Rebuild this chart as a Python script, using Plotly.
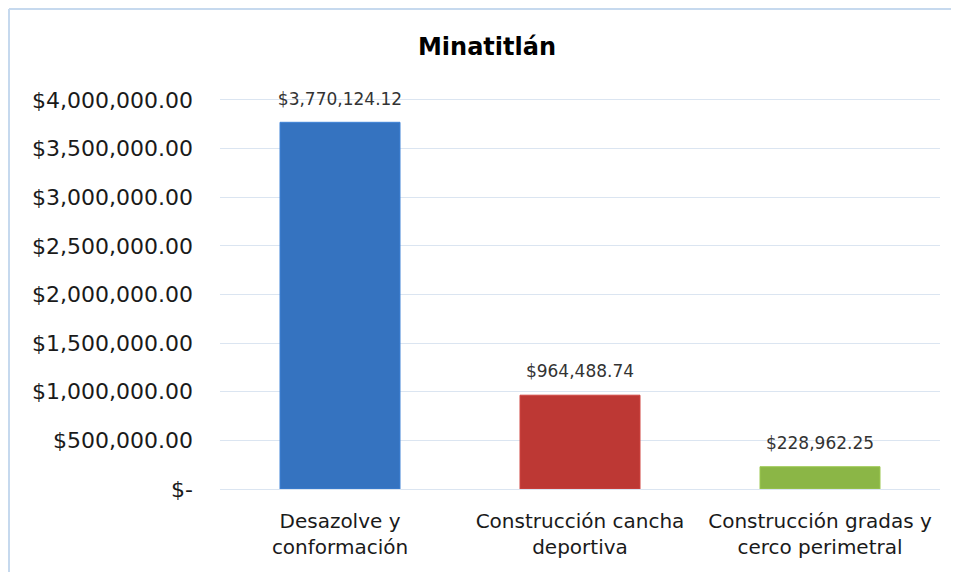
import plotly.graph_objects as go

categories = ["Desazolve y<br>conformación", "Construcción cancha<br>deportiva", "Construcción gradas y<br>cerco perimetral"]
amounts = [3770124.12, 964488.74, 228962.25]
bar_colors = ["#3573c0", "#bd3834", "#8bb646"]
bar_edges = ["#3f82d6", "#cf4540", "#9cc850"]
tick_values = [0, 500000, 1000000, 1500000, 2000000, 2500000, 3000000, 3500000, 4000000]
tick_labels = ["$-", "$500,000.00", "$1,000,000.00", "$1,500,000.00", "$2,000,000.00",
               "$2,500,000.00", "$3,000,000.00", "$3,500,000.00", "$4,000,000.00"]

font_family = "'DejaVu Sans', sans-serif"

fig = go.Figure()
fig.add_trace(
    go.Bar(
        x=categories,
        y=amounts,
        marker=dict(color=bar_colors, line=dict(color=bar_edges, width=1)),
        showlegend=False,
        hoverinfo="skip",
    )
)
# value labels sit above each bar
fig.add_trace(
    go.Scatter(
        x=categories,
        y=amounts,
        mode="markers+text",
        text=[f"${v:,.2f}" for v in amounts],
        textposition="top center",
        textfont=dict(size=17, color="#333333", family=font_family),
        marker=dict(size=20, color="rgba(0,0,0,0)"),
        cliponaxis=False,
        showlegend=False,
    )
)

# chart frame (top and left edges); the page body adds an 8px margin,
# so the figure is 16px smaller than the window
frame = dict(color="#c6d9ee", width=2)
fig.add_shape(type="line", xref="paper", yref="paper",
              x0=(1 - 212) / 720, x1=(943 - 212) / 720,
              y0=(481 - 1) / 391, y1=(481 - 1) / 391, line=frame, layer="below")
fig.add_shape(type="line", xref="paper", yref="paper",
              x0=(1 - 212) / 720, x1=(1 - 212) / 720,
              y0=(481 - 1) / 391, y1=(481 - 564) / 391, line=frame, layer="below")

fig.update_layout(
    width=943,
    height=564,
    margin=dict(l=212, r=11, t=90, b=83),
    paper_bgcolor="white",
    plot_bgcolor="white",
    bargap=0.5,
    title=dict(
        text="<b>Minatitlán</b>",
        x=479 / 943, xref="container", xanchor="center",
        y=1 - 39 / 564, yref="container", yanchor="middle",
        font=dict(size=24, color="black", family=font_family),
    ),
    font=dict(family=font_family, color="#1a1a1a"),
)
fig.update_xaxes(
    showline=False,
    tickfont=dict(size=20, color="#1a1a1a"),
    ticks="",
    ticklabelstandoff=18,
)
fig.update_yaxes(
    range=[0, 4020000],
    tickvals=tick_values,
    ticktext=tick_labels,
    tickfont=dict(size=22, color="#1a1a1a"),
    gridcolor="#dbe5f1",
    gridwidth=1,
    zeroline=True,
    zerolinecolor="#dbe5f1",
    zerolinewidth=1,
    showline=False,
    ticklabelstandoff=26,
)

fig.write_html("out.html")
